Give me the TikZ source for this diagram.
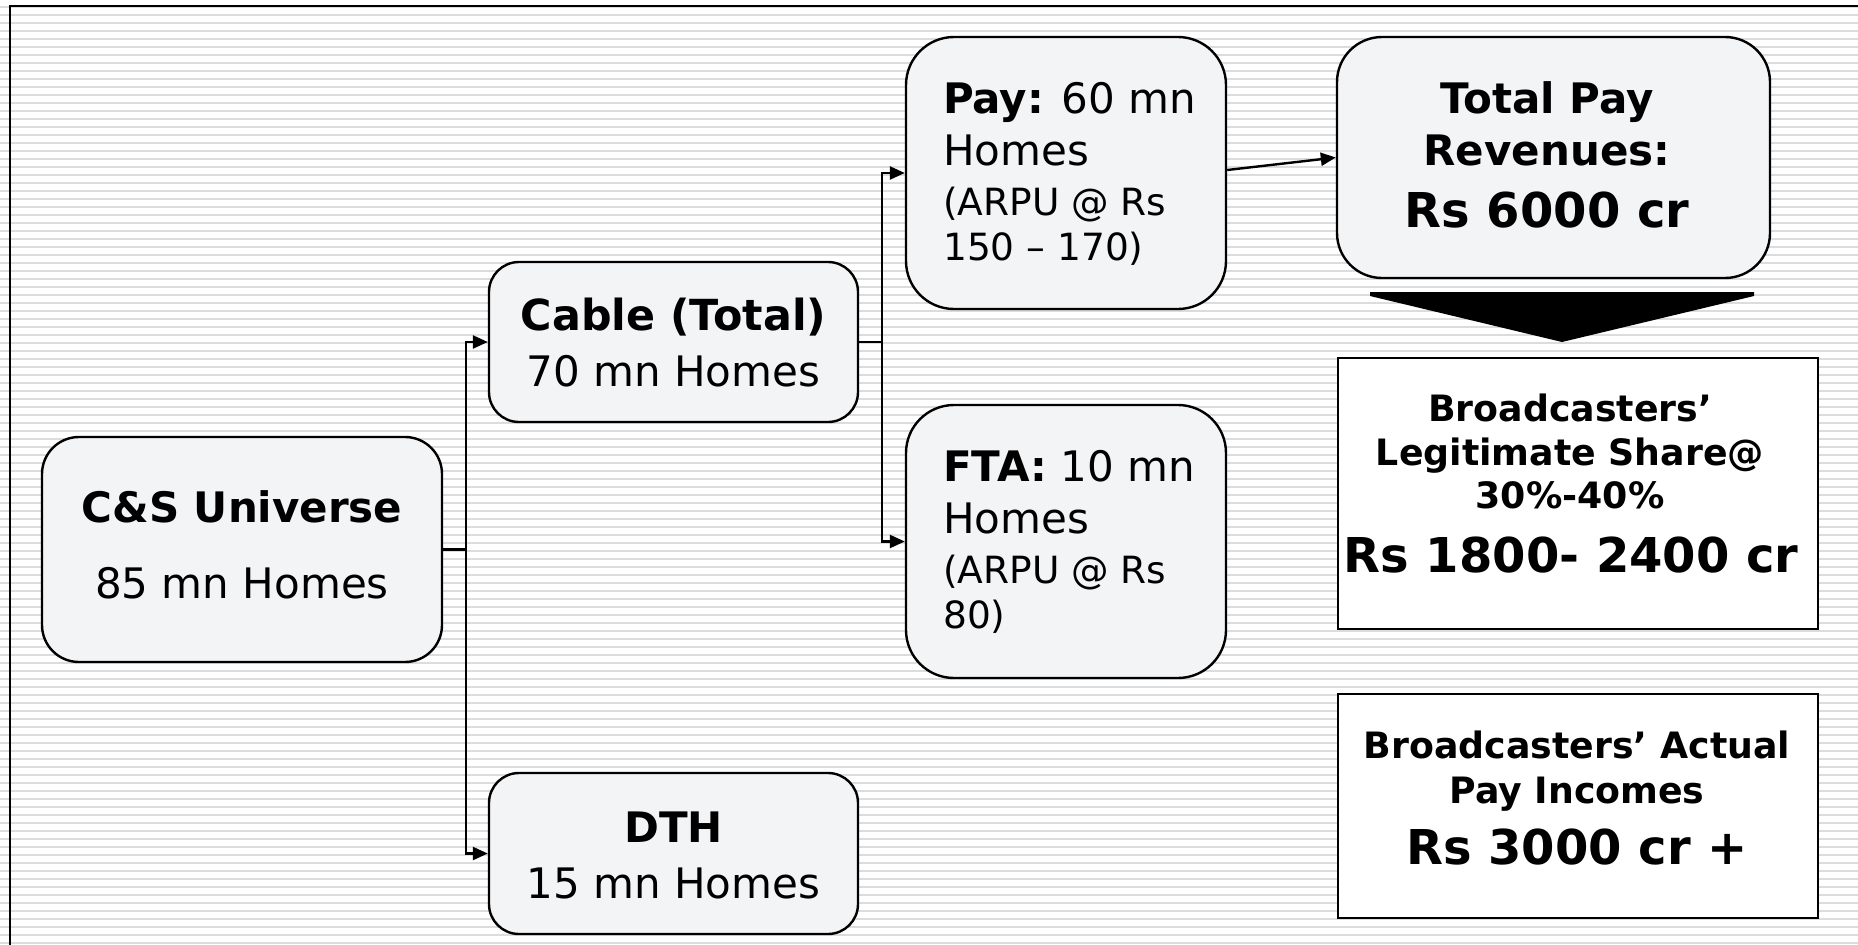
\documentclass[tikz,border=0pt]{standalone}
\usepackage{fontspec}
\setmainfont{DejaVu Sans}
\usetikzlibrary{arrows.meta}
\definecolor{boxfill}{HTML}{F3F4F6}
\definecolor{stripecol}{HTML}{DCDCDC}
\newcommand\fsMain{\fontsize{42}{50}\selectfont}
\newcommand\fsSmall{\fontsize{37.5}{45}\selectfont}
\newcommand\fsMid{\fontsize{36.3}{43}\selectfont}
\newcommand\fsBig{\fontsize{48}{56}\selectfont}
\begin{document}
\begin{tikzpicture}[x=1pt,y=-1pt,
  rbox/.style={draw=black, line width=2.4pt, fill=boxfill, inner sep=0pt},
  sqbox/.style={draw=black, line width=2.4pt, fill=white, inner sep=0pt},
  lbl/.style={inner sep=0pt, anchor=base},
  lbll/.style={inner sep=0pt, anchor=base west},
  conn/.style={line width=2.4pt},
  arr/.style={conn, -{Triangle[length=15pt,width=13pt]}}]
\fill[white] (0,0) rectangle (1858,945);
\useasboundingbox (0,0) rectangle (1858,945);
\foreach \k in {0,...,117} \fill[stripecol] (0,{5.7+8*\k}) rectangle (1858,{7.7+8*\k});
\draw[line width=2.5pt] (10,946) -- (10,6) -- (1858,6);

% boxes
\node[rbox, rounded corners=37pt, minimum width=400pt, minimum height=225pt] (cs) at (242,549.5) {};
\node[rbox, rounded corners=30pt, minimum width=369pt, minimum height=160pt] (cable) at (673.5,342) {};
\node[rbox, rounded corners=30pt, minimum width=369pt, minimum height=161pt] (dth) at (673.5,853.5) {};
\node[rbox, rounded corners=48pt, minimum width=320pt, minimum height=272pt] (pay) at (1066,173) {};
\node[rbox, rounded corners=48pt, minimum width=320pt, minimum height=273pt] (fta) at (1066,541.5) {};
\node[rbox, rounded corners=45pt, minimum width=433pt, minimum height=241pt] (total) at (1553.5,157.5) {};
\node[sqbox, minimum width=480pt, minimum height=271pt] (legit) at (1578,493.5) {};
\node[sqbox, minimum width=480pt, minimum height=224pt] (actual) at (1578,806) {};

% texts
\node[lbl] (csA) at (242,522) {\fsMain\bfseries C\&S Universe};
\node[lbl] (csB) at (242,598) {\fsMain 85 mn Homes};
\node[lbl] (cabA) at (673.5,330) {\fontsize{42.8}{50}\selectfont\bfseries Cable (Total)};
\node[lbl] (cabB) at (673.5,386) {\fsMain 70 mn Homes};
\node[lbl] (dthA) at (673.5,842) {\fsMain\bfseries DTH};
\node[lbl] (dthB) at (673.5,898) {\fsMain 15 mn Homes};
\node[lbll] (payA) at (943,113) {\fsMain\textbf{Pay:} 60 mn};
\node[lbll] (payB) at (943,165) {\fsMain Homes};
\node[lbll] (payC) at (943,215) {\fsSmall (ARPU @ Rs};
\node[lbll] (payD) at (943,260) {\fsSmall 150 – 170)};
\node[lbll] (ftaA) at (943,481) {\fsMain\textbf{FTA:} 10 mn};
\node[lbll] (ftaB) at (943,533) {\fsMain Homes};
\node[lbll] (ftaC) at (943,583) {\fsSmall (ARPU @ Rs};
\node[lbll] (ftaD) at (943,628) {\fsSmall 80)};
\node[lbl] (totA) at (1547,113) {\fsMain\bfseries Total Pay};
\node[lbl] (totB) at (1547,165) {\fsMain\bfseries Revenues:};
\node[lbl] (totC) at (1547,227) {\fsBig\bfseries Rs 6000 cr};
\node[lbl] (legA) at (1570,421) {\fsMid\bfseries Broadcasters’};
\node[lbl] (legB) at (1570,465) {\fsMid\bfseries Legitimate Share@};
\node[lbl] (legC) at (1570,508) {\fsMid\bfseries 30\%-40\%};
\node[lbl] (legD) at (1571,572) {\fsBig\bfseries Rs 1800- 2400 cr};
\node[lbl] (actA) at (1577,758) {\fsMid\bfseries Broadcasters’ Actual};
\node[lbl] (actB) at (1577,803) {\fsMid\bfseries Pay Incomes};
\node[lbl] (actC) at (1577,864) {\fsBig\bfseries Rs 3000 cr +};

% connectors
\coordinate (j1) at (466,549.5);
\coordinate (j2) at (882,342);
\draw[conn] (cs.east) -- (j1);
\draw[arr] (j1) |- (cable.west);
\draw[arr] (j1) |- (dth.west);
\draw[conn] (cable.east) -- (j2);
\draw[arr] (j2) |- (pay.west);
\draw[arr] (j2) |- (fta.west);
\draw[arr] ([yshift=3pt]pay.east) -- (total.west);

% big down arrow
\fill[black] (1370,292) -- (1754,292) -- (1754,296) -- (1562,342) -- (1370,296) -- cycle;
\end{tikzpicture}
\end{document}
